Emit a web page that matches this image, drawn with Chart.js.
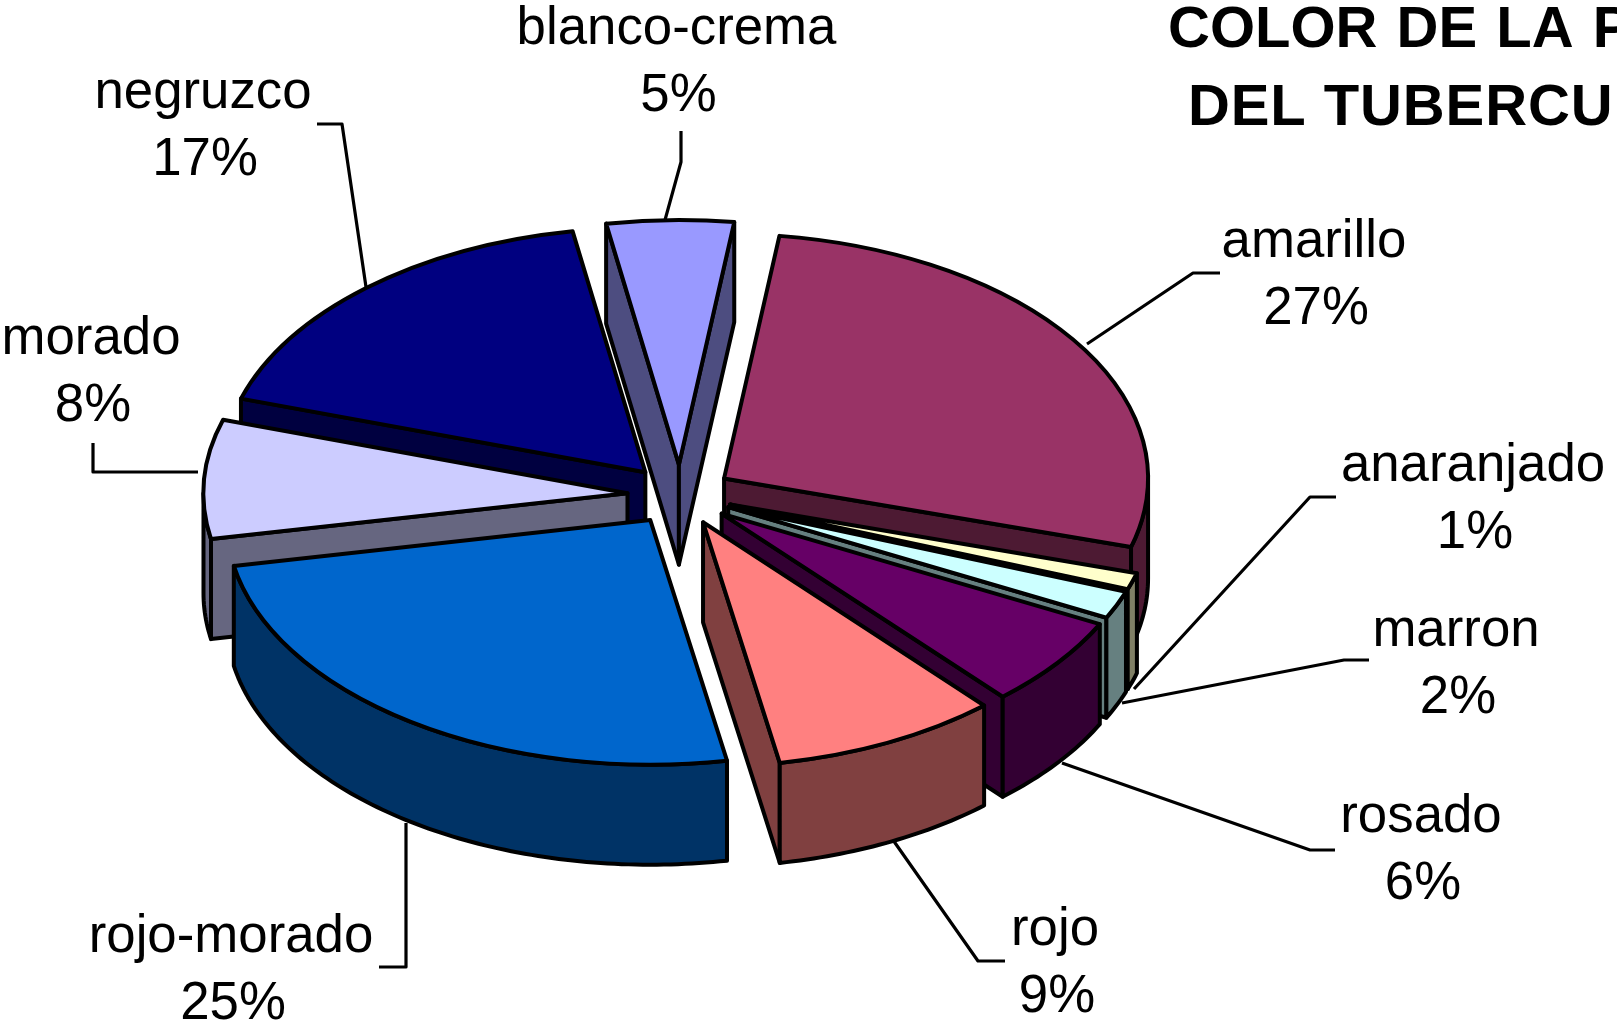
<!DOCTYPE html>
<html lang="es">
<head>
<meta charset="utf-8">
<title>Color de la pulpa del tubérculo</title>
<style>html,body{margin:0;padding:0;background:#fff;overflow:hidden}canvas{display:block}</style>
<script src="https://cdn.jsdelivr.net/npm/chart.js@4/dist/chart.umd.min.js"></script>
</head>
<body>
<canvas id="c" width="1617" height="1024"></canvas>
<script>
const categories = ["amarillo","anaranjado","marron","rosado","rojo","rojo-morado","morado","negruzco","blanco-crema"];
const percentages = [27.45,1.1,1.84,6,8.64,24.9,7.86,17.4,4.83];
const sliceColors = ["#993366","#FFFFCC","#CCFFFF","#660066","#FF8080","#0066CC","#CCCCFF","#000080","#9999FF"];
const titleLines = ["COLOR DE LA PULPA","DEL TUBERCULO"];

// Layout only: label centre / first baseline, and leader-line polyline per category
const labelLayout = [
  {x:1314,y:257,leader:[[1220,273],[1193,273],[1087,344]]},
  {x:1473,y:481,leader:[[1336,497],[1310,497],[1134,689]]},
  {x:1456,y:646,leader:[[1369,660],[1344,660],[1122,703]]},
  {x:1421,y:832,leader:[[1335,850],[1310,850],[1062,763]]},
  {x:1055,y:945,leader:[[1005,961],[978,961],[893,840]]},
  {x:231,y:952,leader:[[379,967],[406,967],[406,823]]},
  {x:91,y:354,leader:[[198,472],[93,472],[93,443]]},
  {x:203,y:108,leader:[[317,124],[342,124],[366,287]]},
  {x:676.5,y:44,leader:[[681,131],[681,162],[665,220]]}
];
const TILT = 0.577, DEPTH = 100, EXPLODE = 52.6, OUTLINE = 4, FONT = '"Liberation Sans", Arial, sans-serif';

function darken(hex){
  const n = parseInt(hex.slice(1),16);
  return `rgb(${(n>>16&255)/2},${(n>>8&255)/2},${(n&255)/2})`;
}

const pie3d = {
  id:'pie3d',
  beforeDatasetDraw(chart){
    const ctx = chart.ctx, meta = chart.getDatasetMeta(0);
    const order = meta.data.map((a,i)=>i).sort((p,q)=>{
      const m = i => { const e = meta.data[i]; return Math.sin((e.startAngle+e.endAngle)/2); };
      return m(p)-m(q);
    });
    ctx.save();
    ctx.lineJoin = 'round'; ctx.lineCap = 'round';
    ctx.lineWidth = OUTLINE; ctx.strokeStyle = '#000';
    order.forEach(i=>{
      const el = meta.data[i];
      const {x,y,startAngle:a,endAngle:b,outerRadius:R} = el;
      const mid = (a+b)/2;
      const dx = EXPLODE*Math.cos(mid), dy = EXPLODE*Math.sin(mid);
      const P = (ang,r,z)=>[x+dx+r*Math.cos(ang), y+TILT*(dy+r*Math.sin(ang))+z];
      const poly = pts=>{
        ctx.beginPath();
        pts.forEach((p,j)=> j?ctx.lineTo(p[0],p[1]):ctx.moveTo(p[0],p[1]));
        ctx.closePath(); ctx.fill(); ctx.stroke();
      };
      ctx.fillStyle = darken(sliceColors[i]);
      // radial faces turned towards the viewer
      if (Math.cos(a) < 0) poly([P(a,0,0),P(a,R,0),P(a,R,DEPTH),P(a,0,DEPTH)]);
      if (Math.cos(b) > 0) poly([P(b,0,0),P(b,R,0),P(b,R,DEPTH),P(b,0,DEPTH)]);
      // outer wall, front half only
      const w0 = Math.max(a,0), w1 = Math.min(b,Math.PI);
      if (w1 > w0){
        const top=[],bot=[],n=Math.ceil((w1-w0)*60);
        for(let s=0;s<=n;s++){
          const t=w0+(w1-w0)*s/n;
          top.push(P(t,R,0)); bot.unshift(P(t,R,DEPTH));
        }
        poly(top.concat(bot));
      }
      // top face: the library's own arc element under the tilt
      ctx.save();
      ctx.translate(x,y); ctx.scale(1,TILT); ctx.translate(-x,-y);
      ctx.translate(dx,dy);
      el.draw(ctx);
      ctx.beginPath();
      ctx.moveTo(x,y);
      ctx.arc(x,y,R,a,b);
      ctx.closePath();
      ctx.restore();
      ctx.stroke();
    });
    ctx.restore();
    return false;
  },
  afterDraw(chart){
    const ctx = chart.ctx;
    ctx.save();
    ctx.strokeStyle='#000'; ctx.lineWidth=3.2; ctx.lineJoin='round';
    labelLayout.forEach(l=>{
      ctx.beginPath();
      l.leader.forEach((p,j)=> j?ctx.lineTo(p[0],p[1]):ctx.moveTo(p[0],p[1]));
      ctx.stroke();
    });
    ctx.fillStyle='#000'; ctx.textAlign='center'; ctx.textBaseline='alphabetic';
    ctx.font=`52.8px ${FONT}`;
    labelLayout.forEach((l,i)=>{
      ctx.fillText(categories[i],l.x,l.y);
      ctx.fillText(Math.round(percentages[i])+'%',l.x+2,l.y+67);
    });
    ctx.textAlign='left';
    ctx.font=`bold 58px ${FONT}`;
    ctx.wordSpacing='3px';
    ctx.fillText(titleLines[0],1168,47);
    ctx.wordSpacing='0px';
    ctx.letterSpacing='0.9px';
    ctx.fillText(titleLines[1],1188,125);
    ctx.restore();
  }
};

new Chart(document.getElementById('c'),{
  type:'pie',
  data:{labels:categories,datasets:[{
    data:percentages,
    backgroundColor:sliceColors,
    borderWidth:0,
    hoverOffset:0
  }]},
  options:{
    responsive:false,
    animation:false,
    rotation:7.5,
    radius:424,
    layout:{padding:{left:0,top:0,right:257,bottom:34}},
    events:[],
    plugins:{legend:{display:false},tooltip:{enabled:false},title:{display:false}}
  },
  plugins:[pie3d]
});
</script>
</body>
</html>
